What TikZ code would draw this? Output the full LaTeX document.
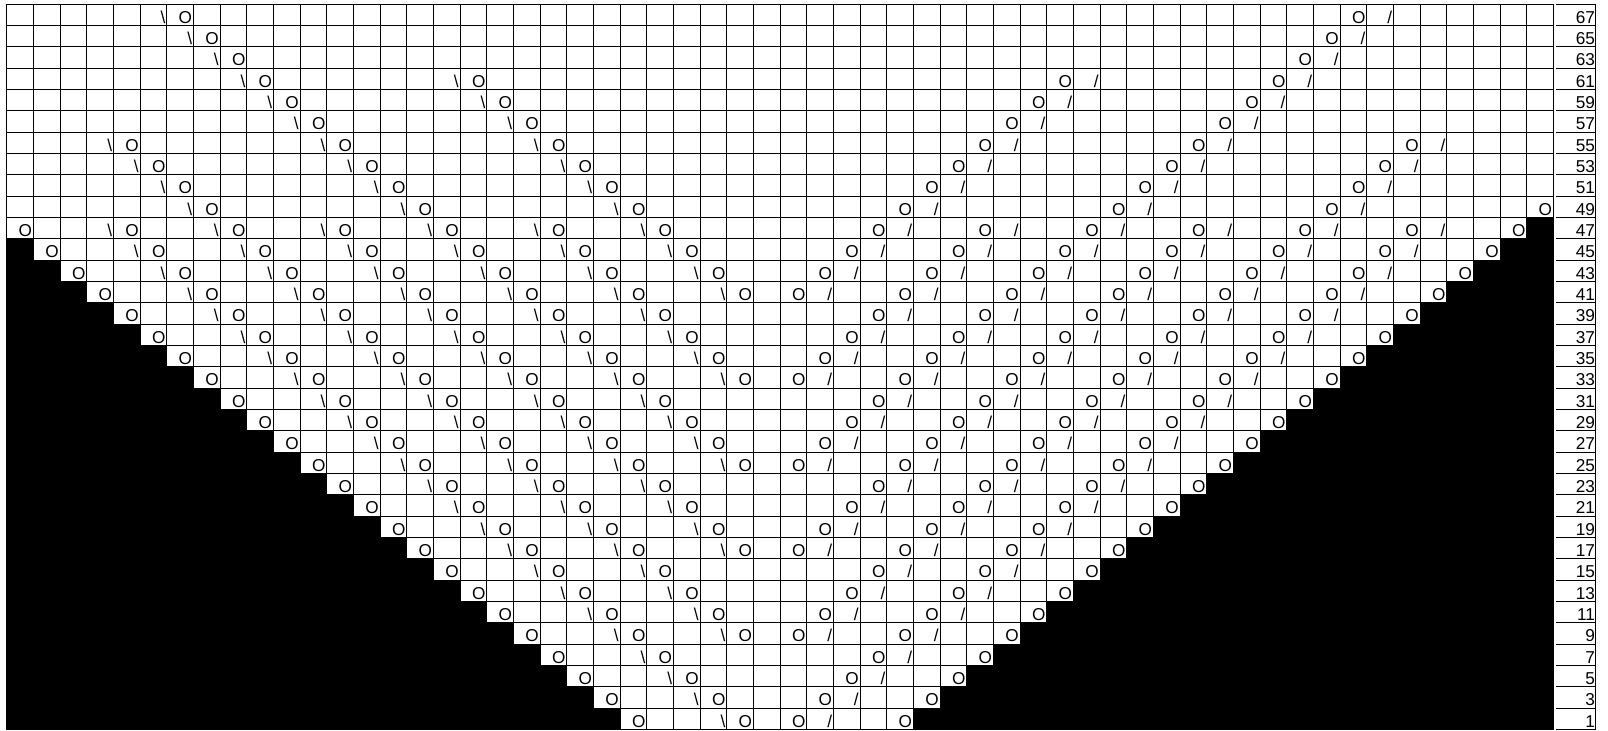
\documentclass[tikz,border=0pt]{standalone}
\usepackage{fontspec}
\setmainfont{Liberation Sans}
\tikzset{
  sym/.style={inner sep=0pt, outer sep=0pt, anchor=base east, font=\fontsize{8.6pt}{9.6pt}\selectfont},
  gridline/.style={line width=0.5pt, draw=black},
  blk/.style={fill=black, draw=none},
}
% place a symbol in row #1 (1 = bottom) and column #2 (1 = left)
\newcommand\mksym[3]{%
  \pgfmathsetmacro\mkxx{6.7+#2*26.6667-1.3}%
  \pgfmathsetmacro\mkyy{729.7-(#1-1)*21.3333-2.6}%
  \node[sym] (n#1-#2) at (\mkxx,\mkyy) {#3};%
}
\begin{document}
\begin{tikzpicture}[x=0.5pt,y=-0.5pt]
\useasboundingbox (0,0) rectangle (1608,731);
\fill[white] (0,0) rectangle (1608,731);
% black staircase regions
\foreach \ri in {1,...,23}{
  \pgfmathsetmacro\ytop{729.7-\ri*21.3333-0.4}
  \pgfmathsetmacro\ybot{729.7-(\ri-1)*21.3333}
  \pgfmathsetmacro\xr{6.7+(24-\ri)*26.6667}
  \fill[blk] (6.7,\ytop) rectangle (\xr,\ybot);
}
\foreach \ri in {1,...,24}{
  \pgfmathsetmacro\ytop{729.7-\ri*21.3333-0.4}
  \pgfmathsetmacro\ybot{729.7-(\ri-1)*21.3333}
  \pgfmathsetmacro\xl{6.7+(33+\ri)*26.6667}
  \fill[blk] (\xl,\ytop) rectangle (1553.3,\ybot);
}
% grid
\foreach \k in {0,...,34}{
  \pgfmathsetmacro\yy{4.3+\k*21.3333}
  \draw[gridline] (6.7,\yy) -- (1553.3,\yy);
  \draw[gridline] (1556,\yy) -- (1595.5,\yy);
}
\foreach \j in {0,...,58}{
  \pgfmathsetmacro\xx{6.7+\j*26.6667}
  \draw[gridline] (\xx,4.3) -- (\xx,729.7);
}
\draw[gridline] (1595.5,4.3) -- (1595.5,729.7);
% lower lattice, rows 1..47
\foreach \ri in {1,...,24}{
  \pgfmathtruncatemacro\Lc{25-\ri}
  \pgfmathtruncatemacro\Ld{29-\ri}
  \pgfmathtruncatemacro\Rc{33+\ri}
  \pgfmathtruncatemacro\Rd{29+\ri}
  \foreach \ci in {\Lc,\Ld,...,28}{
    \mksym{\ri}{\ci}{O}
    \ifnum\ci>\Lc
      \pgfmathtruncatemacro\cm{\ci-1}
      \mksym{\ri}{\cm}{\textbackslash}
    \fi
  }
  \foreach \ci in {\Rc,\Rd,...,30}{
    \mksym{\ri}{\ci}{O}
    \ifnum\ci<\Rc
      \pgfmathtruncatemacro\cp{\ci+1}
      \mksym{\ri}{\cp}{/}
    \fi
  }
}
% upper diagonals, rows 49..67
\foreach \ri in {25,...,34}{
  \pgfmathtruncatemacro\qa{40-\ri}\pgfmathtruncatemacro\qb{41-\ri}
  \mksym{\ri}{\qa}{\textbackslash}\mksym{\ri}{\qb}{O}
  \pgfmathtruncatemacro\qa{17+\ri}\pgfmathtruncatemacro\qb{18+\ri}
  \mksym{\ri}{\qa}{O}\mksym{\ri}{\qb}{/}
}
\foreach \ri in {25,...,31}{
  \pgfmathtruncatemacro\qa{48-\ri}\pgfmathtruncatemacro\qb{49-\ri}
  \mksym{\ri}{\qa}{\textbackslash}\mksym{\ri}{\qb}{O}
  \pgfmathtruncatemacro\qa{9+\ri}\pgfmathtruncatemacro\qb{10+\ri}
  \mksym{\ri}{\qa}{O}\mksym{\ri}{\qb}{/}
}
\foreach \ri in {25,...,28}{
  \pgfmathtruncatemacro\qa{32-\ri}\pgfmathtruncatemacro\qb{33-\ri}
  \mksym{\ri}{\qa}{\textbackslash}\mksym{\ri}{\qb}{O}
  \pgfmathtruncatemacro\qa{25+\ri}\pgfmathtruncatemacro\qb{26+\ri}
  \mksym{\ri}{\qa}{O}\mksym{\ri}{\qb}{/}
}
\mksym{25}{58}{O}
% row numbers
\foreach \ri in {1,...,34}{
  \pgfmathtruncatemacro\num{2*\ri-1}
  \pgfmathsetmacro\yy{729.7-(\ri-1)*21.3333-2.6}
  \node[sym] (lbl\ri) at (1595.0,\yy) {\num};
}
\end{tikzpicture}
\end{document}
